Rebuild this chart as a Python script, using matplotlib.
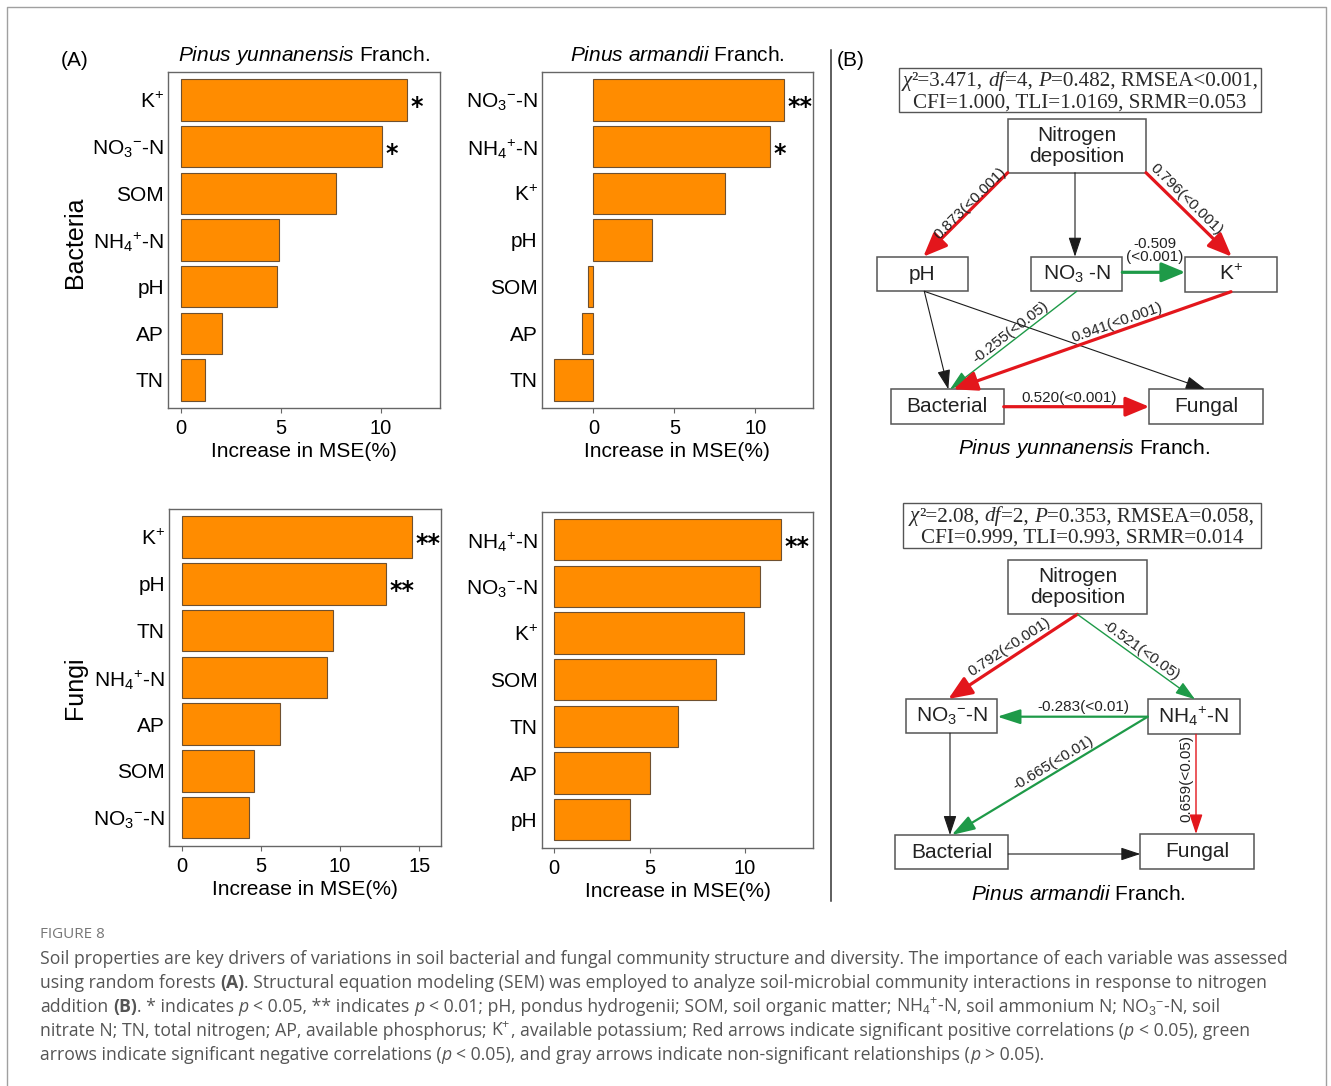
import math

import matplotlib
matplotlib.use("Agg")
import matplotlib.pyplot as plt
from matplotlib.patches import ArrowStyle, FancyArrowPatch, Rectangle

plt.rcParams["font.family"] = ["Liberation Sans", "DejaVu Sans"]
plt.rcParams["mathtext.fontset"] = "custom"
plt.rcParams["mathtext.rm"] = "Liberation Sans"
plt.rcParams["mathtext.it"] = "Liberation Sans:italic"
plt.rcParams["mathtext.bf"] = "Liberation Sans:bold"

W, H = 1331, 1086
ORANGE = "#FF8C00"
BAR_EDGE = "#6e5030"
SPINE = "#666666"
BOX_EDGE = "#555555"
RED, GREEN, GREY = "#E3161C", "#1E9A48", "#1c1c1c"
CAPTION = "#555555"

K = r"K$^{+}$"
NO3 = r"NO$_3{}^{-}$-N"
NH4 = r"NH$_4{}^{+}$-N"

# ---------- random forest importance (%IncMSE)
bac_yun_vars = [K, NO3, "SOM", NH4, "pH", "AP", "TN"]
bac_yun_mse = [11.3, 10.03, 7.75, 4.88, 4.8, 2.03, 1.18]
bac_yun_sig = ["*", "*", "", "", "", "", ""]

bac_arm_vars = [NO3, NH4, K, "pH", "SOM", "AP", "TN"]
bac_arm_mse = [11.79, 10.9, 8.15, 3.6, -0.33, -0.72, -2.44]
bac_arm_sig = ["**", "*", "", "", "", "", ""]

fun_yun_vars = [K, "pH", "TN", NH4, "AP", "SOM", NO3]
fun_yun_mse = [14.56, 12.88, 9.57, 9.19, 6.2, 4.54, 4.27]
fun_yun_sig = ["**", "**", "", "", "", "", ""]

fun_arm_vars = [NH4, NO3, K, "SOM", "TN", "AP", "pH"]
fun_arm_mse = [11.89, 10.79, 9.95, 8.48, 6.5, 5.02, 3.97]
fun_arm_sig = ["**", "", "", "", "", "", ""]

# ---------- SEM path coefficients (None = non-significant path)
yun_coef = [0.873, None, 0.796, -0.509, None, None, -0.255, 0.941, 0.520]
yun_p = ["<0.001", None, "<0.001", "<0.001", None, None, "<0.05", "<0.001", "<0.001"]
yun_fit = [
    [("χ", "i"), ("²=3.471, ", ""), ("df", "i"), ("=4, ", ""), ("P", "i"),
     ("=0.482, RMSEA<0.001,", "")],
    [("CFI=1.000, TLI=1.0169, SRMR=0.053", "")],
]

arm_coef = [0.792, -0.521, -0.283, -0.665, 0.659, None, None]
arm_p = ["<0.001", "<0.05", "<0.01", "<0.01", "<0.05", None, None]
arm_fit = [
    [("χ", "i"), ("²=2.08, ", ""), ("df", "i"), ("=2, ", ""), ("P", "i"),
     ("=0.353, RMSEA=0.058,", "")],
    [("CFI=0.999, TLI=0.993, SRMR=0.014", "")],
]

fig = plt.figure(figsize=(W / 100, H / 100), dpi=100)
fig.patch.set_facecolor("white")
canvas_ax = fig.add_axes([0, 0, 1, 1], zorder=-1)
canvas_ax.set_xlim(0, W)
canvas_ax.set_ylim(H, 0)
canvas_ax.axis("off")
renderer = fig.canvas.get_renderer()


def px_box(x0, y0, x1, y1):
    return [x0 / W, 1 - y1 / H, (x1 - x0) / W, (y1 - y0) / H]


def bar_panel(box, names, vals, sig, xlim, xticks, title=None):
    ax = fig.add_axes(px_box(*box))
    pos = list(range(len(vals)))
    ax.barh(pos, vals, height=0.89, color=ORANGE, edgecolor=BAR_EDGE, linewidth=0.8)
    ax.set_ylim(len(vals) - 0.4, -0.6)
    ax.set_xlim(*xlim)
    ax.set_yticks(pos, names)
    ax.set_xticks(xticks)
    ax.tick_params(axis="y", length=0, pad=3, labelsize=15)
    ax.tick_params(axis="x", length=3.6, pad=4.5, labelsize=14.5, color=SPINE)
    for sp in ax.spines.values():
        sp.set_color(SPINE)
        sp.set_linewidth(1.0)
    ax.set_xlabel("Increase in MSE(%)", fontsize=15, labelpad=3)
    for p, v, s in zip(pos, vals, sig):
        if s:
            ax.annotate(s, (v, p), xytext=(2.5, -10), textcoords="offset points",
                        ha="left", va="baseline", fontsize=17, fontweight="bold",
                        family="DejaVu Sans")
    if title:
        ax.set_title(title, fontsize=15, pad=8)
    return ax


bar_panel((168, 72, 440, 408), bac_yun_vars, bac_yun_mse, bac_yun_sig,
          (-0.65, 12.95), [0, 5, 10], r"$\it{Pinus\ yunnanensis}$ Franch.")
bar_panel((541.7, 72, 812.7, 408), bac_arm_vars, bac_arm_mse, bac_arm_sig,
          (-3.19, 13.54), [0, 5, 10], r"$\it{Pinus\ armandii}$ Franch.")
bar_panel((169, 509, 441, 845.7), fun_yun_vars, fun_yun_mse, fun_yun_sig,
          (-0.8, 16.37), [0, 5, 10, 15])
bar_panel((541.7, 511.7, 813.3, 847.7), fun_arm_vars, fun_arm_mse, fun_arm_sig,
          (-0.66, 13.58), [0, 5, 10])

ca = canvas_ax
ca.text(75, 61, "(A)", fontsize=15, ha="center", va="center")
ca.text(851, 61, "(B)", fontsize=15, ha="center", va="center")
ca.text(75, 242, "Bacteria", fontsize=18, rotation=90, ha="center", va="center")
ca.text(75, 688, "Fungi", fontsize=18, rotation=90, ha="center", va="center")

# frame and divider
ca.plot([7, 7, 1326, 1326], [H, 7, 7, H], color="#a0a0a0", lw=1.0)
ca.plot([831, 831], [50, 901], color="#333333", lw=1.1)


def rich_line(x, y, parts, ha="left", size=11, family="Open Sans", color=CAPTION):
    probe = ca.text(0, 0, "a a", fontsize=size, family=family)
    probe2 = ca.text(0, 0, "aa", fontsize=size, family=family)
    space = (probe.get_window_extent(renderer).width
             - probe2.get_window_extent(renderer).width)
    probe.remove()
    probe2.remove()
    placed, cur = [], 0.0
    for s, st in parts:
        core = s.strip(" ")
        cur += (len(s) - len(s.lstrip(" "))) * space
        kw = dict(fontsize=size, family=family, color=color, ha="left", va="baseline")
        if "b" in st:
            kw["fontweight"] = "bold"
        if "i" in st:
            kw["fontstyle"] = "italic"
        t = ca.text(0, y, core, **kw)
        placed.append((t, cur))
        cur += t.get_window_extent(renderer).width
        cur += (len(s) - len(s.rstrip(" "))) * space
    x0 = x - cur / 2 if ha == "center" else x
    for t, off in placed:
        t.set_x(x0 + off)


def node(box, label, size=15):
    x0, y0, x1, y1 = box
    ca.add_patch(Rectangle((x0, y0), x1 - x0, y1 - y0, fill=False,
                           ec=BOX_EDGE, lw=1.1))
    lines = label.split("\n")
    cy = (y0 + y1) / 2
    for i, ln in enumerate(lines):
        ca.text((x0 + x1) / 2, cy + (i - (len(lines) - 1) / 2) * 21, ln,
                fontsize=size, ha="center", va="center", color="#222222")


def path_style(coef, p):
    if coef is None:
        return GREY, 0.8, 1.2, 0.4
    color = RED if coef > 0 else GREEN
    lw, hl, hw = {"<0.001": (2.3, 1.45, 0.6), "<0.01": (1.6, 1.4, 0.45),
                  "<0.05": (1.0, 1.2, 0.4)}[p]
    return color, lw, hl, hw


def sem(edges, coefs, pvals, label_pos):
    for (a, b), c, p, lp in zip(edges, coefs, pvals, label_pos):
        color, lw, hl, hw = path_style(c, p)
        ca.add_patch(FancyArrowPatch(a, b, arrowstyle=ArrowStyle("-|>", head_length=hl, head_width=hw),
                                     mutation_scale=10, lw=lw, color=color,
                                     shrinkA=0, shrinkB=0, zorder=3))
        if c is None:
            continue
        ang = math.degrees(math.atan2(-(b[1] - a[1]), b[0] - a[0]))
        if ang > 90:
            ang -= 180
        elif ang <= -90:
            ang += 180
        if lp[2]:
            ang = 0
        txt = f"{c:.3f}({p})" if not lp[3] else f"{c:.3f}\n({p})"
        ca.text(lp[0], lp[1], txt, fontsize=11, rotation=ang, rotation_mode="anchor",
                ha="center", va="center", color="#222222", linespacing=1.0, zorder=4)


# ---------- SEM: Pinus yunnanensis
ca.add_patch(Rectangle((899, 67.7), 361.7, 44.6, fill=False, ec=BOX_EDGE, lw=1.0))
rich_line(1080, 86, yun_fit[0], ha="center", size=15.2, family="Liberation Serif", color="#2a2a2a")
rich_line(1080, 107.5, yun_fit[1], ha="center", size=15.2, family="Liberation Serif", color="#2a2a2a")
node((1007.7, 119, 1146, 172.7), "Nitrogen\ndeposition")
node((876.7, 256.7, 967.7, 291.3), "pH")
node((1031.3, 256.7, 1122.3, 291.3), r"NO$_3$ -N")
node((1185.3, 256.7, 1277.3, 291.7), K)
node((891, 389.3, 1003.7, 424), "Bacterial")
node((1149.3, 389, 1262.7, 424), "Fungal")
sem(
    [((1007.7, 172.7), (923.3, 256.7)), ((1075, 172.7), (1075, 256.7)),
     ((1146, 172.7), (1231.7, 256.7)), ((1122.3, 272.3), (1185.3, 272.3)),
     ((924.3, 291.3), (948.3, 389.3)), ((924.3, 291.3), (1205, 389)),
     ((1076.7, 291.3), (950, 389.3)), ((1231, 291.7), (953.3, 389.3)),
     ((1003.7, 406.7), (1149.3, 406.7))],
    yun_coef, yun_p,
    [(970, 203, False, False), None, (1186, 199, False, False), (1155, 250.5, True, True),
     None, None, (1010, 332, False, False), (1117, 323, False, False), (1069, 398, True, False)],
)
ca.text(1084, 449, r"$\it{Pinus\ yunnanensis}$ Franch.", fontsize=15, ha="center", va="center")

# ---------- SEM: Pinus armandii
ca.add_patch(Rectangle((903.3, 503.3), 357.4, 45, fill=False, ec=BOX_EDGE, lw=1.0))
rich_line(1082, 521.5, arm_fit[0], ha="center", size=15.2, family="Liberation Serif", color="#2a2a2a")
rich_line(1082, 543, arm_fit[1], ha="center", size=15.2, family="Liberation Serif", color="#2a2a2a")
node((1008.3, 560, 1147.3, 614.3), "Nitrogen\ndeposition")
node((906, 699, 997.3, 733.3), NO3)
node((1147.7, 699.3, 1240, 734.3), NH4)
node((895.3, 835, 1008.3, 869.3), "Bacterial")
node((1140.3, 834, 1254, 869), "Fungal")
sem(
    [((1077.3, 614.3), (948.3, 699)), ((1077.3, 614.3), (1195, 699.3)),
     ((1147.7, 716.7), (997.3, 716.7)), ((1147.7, 716.7), (951.7, 835)),
     ((1196, 734.3), (1196, 834)), ((950, 733.3), (950, 835)),
     ((1008.3, 854), (1140.3, 854))],
    arm_coef, arm_p,
    [(1009, 646.7, False, False), (1140.7, 650.7, False, False), (1083.3, 707.3, True, False),
     (1053.3, 763.3, False, False), (1186.7, 779, False, False), None, None],
)
ca.text(1078, 894, r"$\it{Pinus\ armandii}$ Franch.", fontsize=15, ha="center", va="center")

# ---------- figure caption
ca.text(40, 935, "FIGURE 8", fontsize=11, family="Open Sans", color="#777777", va="center")
cap_lines = [
    [("Soil properties are key drivers of variations in soil bacterial and fungal community "
      "structure and diversity. The importance of each variable was assessed", "")],
    [("using random forests ", ""), ("(A)", "b"),
     (". Structural equation modeling (SEM) was employed to analyze soil-microbial community "
      "interactions in response to nitrogen", "")],
    [("addition ", ""), ("(B)", "b"), (". * indicates ", ""), ("p", "i"),
     (" < 0.05, ** indicates ", ""), ("p", "i"),
     (" < 0.01; pH, pondus hydrogenii; SOM, soil organic matter; ", ""), (NH4, ""),
     (", soil ammonium N; ", ""), (NO3, ""), (", soil", "")],
    [("nitrate N; TN, total nitrogen; AP, available phosphorus; ", ""), (K, ""),
     (", available potassium; Red arrows indicate significant positive correlations (", ""),
     ("p", "i"), (" < 0.05), green", "")],
    [("arrows indicate significant negative correlations (", ""), ("p", "i"),
     (" < 0.05), and gray arrows indicate non-significant relationships (", ""),
     ("p", "i"), (" > 0.05).", "")],
]
for i, parts in enumerate(cap_lines):
    rich_line(40, 963.5 + 24.2 * i, parts, size=12.7)

fig.savefig("out.png", dpi=100)
